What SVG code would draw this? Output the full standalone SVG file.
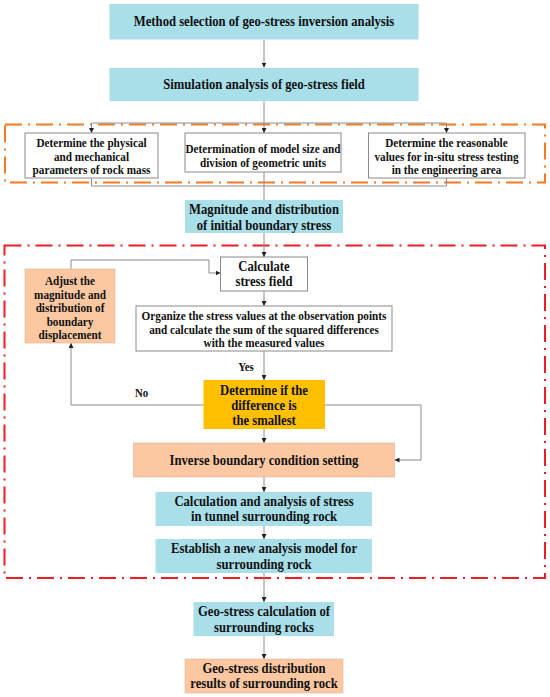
<svg xmlns="http://www.w3.org/2000/svg" width="550" height="697" viewBox="0 0 550 697">
<defs>
<style>
.blue{fill:#A8DFE9;stroke:none}
.peach{fill:#FBC8A2;stroke:#E2B394;stroke-width:0.6}
.gold{fill:#FFC000;stroke:none}
.white{fill:#FFFFFF;stroke:#8A8A8A;stroke-width:1}
text{font-family:"Liberation Serif","Times New Roman",serif;font-weight:bold;fill:#111;text-anchor:middle;transform-box:fill-box;transform-origin:center;transform:scaleX(0.905)}
.l{font-size:14px}
.s{font-size:12.4px}
.lab{font-size:12px}
.conn{fill:none;stroke:#8C8C8C;stroke-width:1}
.frameO{fill:none;stroke:#F57A20;stroke-width:2;stroke-dasharray:17 6 2 6}
.frameR{fill:none;stroke:#EE1C24;stroke-width:2;stroke-dasharray:17 6 2 6}
</style>
<marker id="ah" viewBox="0 0 10 10" refX="10" refY="5" markerWidth="5" markerHeight="5" orient="auto" markerUnits="userSpaceOnUse">
<path d="M0,0 L10,5 L0,10 z" fill="#222"/>
</marker>
</defs>

<rect class="frameO" x="5" y="124.5" width="540" height="58"/>
<rect class="frameR" x="4.5" y="245.5" width="540.5" height="332.5"/>

<g id="connectors">
<path class="conn" d="M264,39.5 V67.5" marker-end="url(#ah)"/>
<path class="conn" d="M264,101 V133" marker-end="url(#ah)"/>
<path class="conn" d="M91.5,123 H446.5"/>
<path class="conn" d="M91.5,123 V133" marker-end="url(#ah)"/>
<path class="conn" d="M446.5,123 V133" marker-end="url(#ah)"/>
<path class="conn" d="M91.5,178 V186 H446.5 V178"/>
<path class="conn" d="M264,172 V200"/>
<path class="conn" d="M264,233 V257" marker-end="url(#ah)"/>
<path class="conn" d="M264,291 V306" marker-end="url(#ah)"/>
<path class="conn" d="M264,351 V380" marker-end="url(#ah)"/>
<path class="conn" d="M203.5,405 H71 V343" marker-end="url(#ah)"/>
<path class="conn" d="M71,269 V260 H209 V273 H220.5" marker-end="url(#ah)"/>
<path class="conn" d="M325,405 H421 V460 H394.5" marker-end="url(#ah)"/>
<path class="conn" d="M264,429 V443" marker-end="url(#ah)"/>
<path class="conn" d="M264,477 V492" marker-end="url(#ah)"/>
<path class="conn" d="M264,526 V539" marker-end="url(#ah)"/>
<path class="conn" d="M264,573 V602" marker-end="url(#ah)"/>
<path class="conn" d="M264,636 V659" marker-end="url(#ah)"/>
<text class="lab" x="246" y="371">Yes</text>
<text class="lab" x="141.5" y="397.5">No</text>
</g>

<g id="n1">
<rect class="blue" x="109.5" y="4" width="309" height="35.5"/>
<text class="l" x="264" y="26.5">Method selection of geo-stress inversion analysis</text>
</g>
<g id="n2">
<rect class="blue" x="109.5" y="68" width="309" height="33"/>
<text class="l" x="264" y="89">Simulation analysis of geo-stress field</text>
</g>
<g id="n3">
<rect class="white" x="25" y="133" width="133" height="45"/>
<text class="s" x="91.5" y="147.5">Determine the physical</text>
<text class="s" x="91.5" y="161">and mechanical</text>
<text class="s" x="91.5" y="174.5">parameters of rock mass</text>
</g>
<g id="n4">
<rect class="white" x="185" y="133" width="156" height="39"/>
<text class="s" x="263" y="153.5">Determination of model size and</text>
<text class="s" x="263" y="167">division of geometric units</text>
</g>
<g id="n5">
<rect class="white" x="368.5" y="133" width="156.5" height="45"/>
<text class="s" x="446.5" y="147.5">Determine the reasonable</text>
<text class="s" x="446.5" y="161">values for in-situ stress testing</text>
<text class="s" x="446.5" y="174.5">in the engineering area</text>
</g>
<g id="n6">
<rect class="blue" x="185" y="200" width="158" height="33"/>
<text class="l" x="264" y="214">Magnitude and distribution</text>
<text class="l" x="264" y="230">of initial boundary stress</text>
</g>
<g id="n7">
<rect class="white" x="220.5" y="257" width="87" height="34"/>
<text class="l" x="264" y="271">Calculate</text>
<text class="l" x="264" y="286.5">stress field</text>
</g>
<g id="n8">
<rect class="peach" x="25" y="269" width="90" height="74"/>
<text class="s" x="70" y="285">Adjust the</text>
<text class="s" x="70" y="299">magnitude and</text>
<text class="s" x="70" y="312.5">distribution of</text>
<text class="s" x="70" y="326">boundary</text>
<text class="s" x="70" y="339.5">displacement</text>
</g>
<g id="n9">
<rect class="white" x="136" y="306" width="256" height="45"/>
<text class="s" x="264" y="320.5">Organize the stress values at the observation points</text>
<text class="s" x="264" y="334">and calculate the sum of the squared differences</text>
<text class="s" x="264" y="347.5">with the measured values</text>
</g>
<g id="n10">
<rect class="gold" x="203.5" y="380" width="121.5" height="49"/>
<text class="l" x="264" y="395">Determine if the</text>
<text class="l" x="264" y="410">difference is</text>
<text class="l" x="264" y="425">the smallest</text>
</g>
<g id="n11">
<rect class="peach" x="133.5" y="443" width="261" height="34"/>
<text class="l" x="264" y="465">Inverse boundary condition setting</text>
</g>
<g id="n12">
<rect class="blue" x="155.5" y="492" width="216.5" height="34"/>
<text class="l" x="264" y="506">Calculation and analysis of stress</text>
<text class="l" x="264" y="521.5">in tunnel surrounding rock</text>
</g>
<g id="n13">
<rect class="blue" x="155.5" y="539" width="216.5" height="34"/>
<text class="l" x="264" y="553">Establish a new analysis model for</text>
<text class="l" x="264" y="569">surrounding rock</text>
</g>
<g id="n14">
<rect class="blue" x="193.5" y="602" width="140.5" height="34"/>
<text class="l" x="264" y="616.5">Geo-stress calculation of</text>
<text class="l" x="264" y="632">surrounding rocks</text>
</g>
<g id="n15">
<rect class="peach" x="185" y="659" width="158" height="34"/>
<text class="l" x="264" y="673">Geo-stress distribution</text>
<text class="l" x="264" y="688.5">results of surrounding rock</text>
</g>
</svg>
